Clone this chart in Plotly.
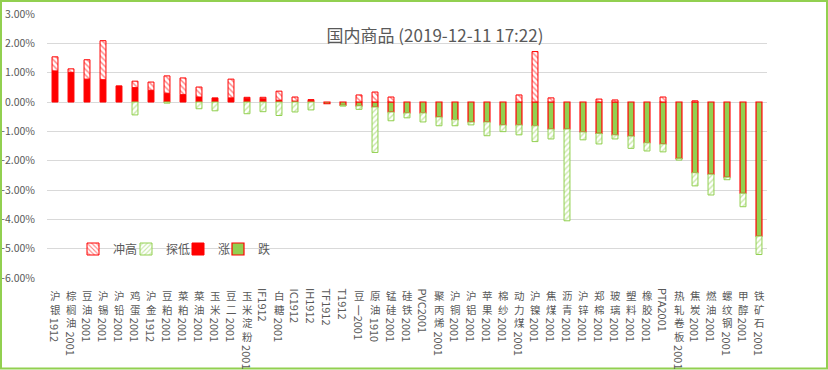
import plotly.graph_objects as go

# ---------------- data (percent) ----------------
categories = ["沪银1912", "棕榈油2001", "豆油2001", "沪锡2001", "沪铅2001", "鸡蛋2001",
              "沪金1912", "豆粕2001", "菜粕2001", "菜油2001", "玉米2001", "豆二2001",
              "玉米淀粉2001", "IF1912", "白糖2001", "IC1912", "IH1912", "TF1912", "T1912",
              "豆一2001", "原油1910", "锰硅2001", "硅铁2001", "PVC2001", "聚丙烯2001",
              "沪铜2001", "沪铝2001", "苹果2001", "棉纱2001", "动力煤2001", "沪镍2001",
              "焦煤2001", "沥青2001", "沪锌2001", "郑棉2001", "玻璃2001", "塑料2001",
              "橡胶2001", "PTA2001", "热轧卷板2001", "焦炭2001", "燃油2001", "螺纹钢2001",
              "甲醇2001", "铁矿石2001"]

change = [1.06, 1.01, 0.78, 0.76, 0.55, 0.49, 0.40, 0.30, 0.25, 0.17, 0.14, 0.14,
          0.13, 0.11, 0.06, 0.03, 0.06, -0.06, -0.11, -0.13, -0.17, -0.34, -0.37,
          -0.37, -0.51, -0.60, -0.68, -0.68, -0.78, -0.78, -0.81, -0.92, -0.92,
          -1.02, -1.07, -1.12, -1.16, -1.39, -1.43, -1.92, -2.41, -2.46, -2.56,
          -3.11, -4.57]

high = [1.54, 1.13, 1.44, 2.09, 0.55, 0.71, 0.68, 0.89, 0.82, 0.51, 0.14, 0.78,
        0.16, 0.16, 0.37, 0.17, 0.08, 0.00, 0.00, 0.24, 0.34, 0.17, 0.00,
        0.00, 0.00, 0.00, 0.00, 0.00, 0.00, 0.24, 1.72, 0.14, 0.00,
        0.00, 0.10, 0.07, 0.00, 0.00, 0.17, 0.00, 0.04, 0.00, 0.00,
        0.00, 0.00]

low = [0.00, 0.00, 0.00, 0.00, 0.00, -0.44, 0.00, -0.04, 0.00, -0.23, -0.30, 0.00,
       -0.40, -0.33, -0.46, -0.34, -0.27, -0.06, -0.14, -0.25, -1.72, -0.64, -0.54,
       -0.68, -0.81, -0.81, -0.78, -1.15, -1.01, -1.12, -1.35, -1.26, -4.05,
       -1.29, -1.43, -1.26, -1.58, -1.67, -1.70, -1.98, -2.86, -3.17, -2.65,
       -3.57, -5.20]

title_text = "国内商品 (2019-12-11 17:22)"
legend_names = ["冲高", "探低", "涨", "跌"]

# ---------------- derived stacked segments ----------------
def nz(v):
    return v / 100.0 if abs(v) > 1e-9 else None

rise = [nz(c) if c > 0 else None for c in change]
fall = [nz(c) if c < 0 else None for c in change]
rush = [nz(max(h, 0) - max(c, 0)) for h, c in zip(high, change)]
probe = [nz(min(l, 0) - min(c, 0)) for l, c in zip(low, change)]

RED = "#FF0000"
GREEN = "#92D050"
TXT = "#595959"
FONT = "Noto Sans CJK SC"

fig = go.Figure()
fig.add_trace(go.Bar(x=categories, y=rise, name=legend_names[2], legend="legend3",
                     marker=dict(color=RED, line=dict(color=RED, width=1))))
fig.add_trace(go.Bar(x=categories, y=fall, name=legend_names[3], legend="legend4",
                     marker=dict(color=GREEN, line=dict(color=RED, width=1.2))))
fig.add_trace(go.Bar(x=categories, y=rush, name=legend_names[0], legend="legend",
                     marker=dict(color="white", line=dict(color=RED, width=1),
                                 pattern=dict(shape="\\", fgcolor=RED, bgcolor="white",
                                              size=4, solidity=0.35))))
fig.add_trace(go.Bar(x=categories, y=probe, name=legend_names[1], legend="legend2",
                     marker=dict(color="white", line=dict(color=GREEN, width=1),
                                 pattern=dict(shape="/", fgcolor=GREEN, bgcolor="white",
                                              size=4, solidity=0.35))))

# ---------------- layout geometry ----------------
W, H = 828, 370
L, R, T, B = 47, 61, 14, 92
PW = W - L - R
PH = H - T - B

def px_x(px):
    return (px - L) / PW

def px_y(py):
    return (H - B - py) / PH

legend_common = dict(orientation="h", yanchor="middle", y=px_y(249), xanchor="left",
                     bgcolor="rgba(0,0,0,0)", font=dict(family=FONT, size=12, color=TXT),
                     itemwidth=30)
text_starts = [108, 161, 213, 253]
legends = {}
for key, ts in zip(["legend", "legend2", "legend3", "legend4"], text_starts):
    legends[key] = dict(legend_common, x=px_x(ts - 35))

# ---------------- vertical category labels ----------------
annotations = []
CJK_SIZE = 10.5
PITCH = 1.3 * CJK_SIZE
START = 10
for cat in categories:
    # upright CJK head, rotated tail (latin/digits)
    idx = 0
    while idx < len(cat) and ord(cat[idx]) > 0x2E80 and cat[idx] != "一":
        idx += 1
    head, tail = cat[:idx], cat[idx:]
    if head:
        annotations.append(dict(x=cat, xref="x", y=0, yref="paper",
                                text="<br>".join(head),
                                showarrow=False, xanchor="center", yanchor="top",
                                yshift=-START, borderpad=0, borderwidth=0,
                                font=dict(family=FONT, size=CJK_SIZE, color=TXT)))
    if tail:
        off = START + (len(head) * PITCH + 2.5 if head else 0)
        annotations.append(dict(x=cat, xref="x", y=0, yref="paper", text=tail,
                                showarrow=False, xanchor="center", yanchor="top",
                                textangle=90, borderpad=0, borderwidth=0,
                                yshift=-off,
                                font=dict(family=FONT, size=11, color=TXT)))

fig.update_layout(
    width=W, height=H,
    margin=dict(l=L, r=R, t=T, b=B, autoexpand=False),
    barmode="relative",
    bargap=0.63,
    paper_bgcolor="white",
    plot_bgcolor="white",
    title=dict(text=title_text, x=px_x(435), xref="paper", xanchor="center",
               y=1 - 36.5 / H, yref="container", yanchor="middle", automargin=False,
               font=dict(family=FONT, size=17, color=TXT)),
    xaxis=dict(showticklabels=False, showgrid=False, showline=False, ticks="",
               zeroline=False, automargin=False),
    yaxis=dict(range=[-0.06, 0.03], dtick=0.01, tickformat=".2%", showgrid=True,
               gridcolor="#D9D9D9", gridwidth=1, zeroline=True, zerolinecolor="#D9D9D9",
               zerolinewidth=1, showline=False, ticks="", ticklabelstandoff=11,
               automargin=False,
               tickfont=dict(family=FONT, size=10.5, color=TXT)),
    annotations=annotations,
    shapes=[dict(type="rect", xref="paper", yref="paper",
                 x0=px_x(1), x1=px_x(827), y0=px_y(368.5), y1=px_y(1),
                 line=dict(color=GREEN, width=2), fillcolor="rgba(0,0,0,0)")],
    showlegend=True,
    **legends,
)

fig.write_html("out.html", config={"displayModeBar": False},
               post_script="document.body.style.margin='0';document.body.style.overflow='hidden';")
